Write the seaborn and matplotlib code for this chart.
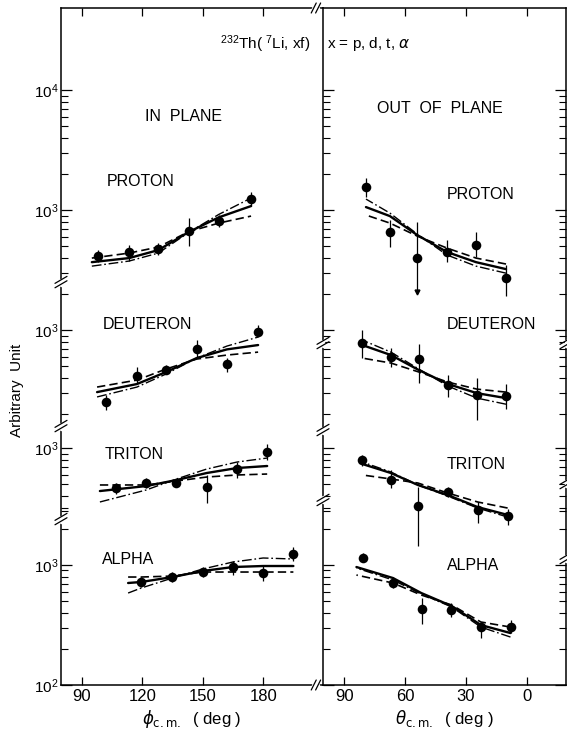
import numpy as np
import pandas as pd
import matplotlib
matplotlib.use('Agg')
import matplotlib.pyplot as plt
import seaborn as sns
from matplotlib import transforms
from matplotlib.lines import Line2D
from matplotlib.ticker import FixedLocator, FixedFormatter, NullFormatter

# ---- data (arbitrary units, before the per-group shift) ----
groups = ['PROTON', 'DEUTERON', 'TRITON', 'ALPHA']
shift = {'PROTON': 2.958, 'DEUTERON': 1.958, 'TRITON': 0.975, 'ALPHA': 0.0}  # decades

# IN PLANE (phi c.m.)
ip_proton_phi = [98, 113.5, 128, 143, 158, 174]
ip_proton_val = [414, 447, 473, 668, 810, 1235]
ip_proton_lo = [368, 376, 422, 501, 722, 1080]
ip_proton_hi = [464, 511, 531, 858, 909, 1413]
ip_proton_cphi = [95, 113.5, 128, 143, 158, 174]
ip_proton_dash = [398, 438, 492, 660, 779, 891]
ip_proton_solid = [368, 398, 464, 655, 870, 1080]
ip_proton_dot = [341, 376, 438, 650, 920, 1259]

ip_deut_phi = [102, 117.4, 131.8, 147.2, 162, 177.2]
ip_deut_val = [252, 414, 464, 694, 521, 962]
ip_deut_lo = [215, 362, 430, 584, 447, 874]
ip_deut_hi = [287, 492, 511, 825, 584, 1101]
ip_deut_cphi = [97.6, 117.4, 131.8, 147, 162, 177.5]
ip_deut_dash = [335, 383, 473, 573, 619, 655]
ip_deut_solid = [304, 355, 447, 584, 690, 750]
ip_deut_dot = [277, 335, 430, 584, 735, 874]

ip_trit_phi = [107, 122, 137, 152, 167, 182]
ip_trit_val = [464, 511, 511, 473, 668, 926]
ip_trit_lo = [414, 464, 473, 348, 562, 794]
ip_trit_hi = [511, 562, 552, 596, 764, 1080]
ip_trit_cphi = [99, 122, 137, 152, 167, 182]
ip_trit_dash = [492, 492, 531, 573, 596, 607]
ip_trit_solid = [438, 482, 541, 619, 681, 708]
ip_trit_dot = [355, 447, 552, 668, 764, 825]

ip_alpha_phi = [119.5, 135, 150, 165, 180, 195]
ip_alpha_val = [722, 794, 874, 962, 858, 1235]
ip_alpha_lo = [655, 722, 794, 825, 736, 1080]
ip_alpha_hi = [794, 874, 962, 1080, 1000, 1413]
ip_alpha_cphi = [113, 119.5, 135, 150, 165, 180, 195]
ip_alpha_dash = [794, 794, 809, 874, 874, 874, 874]
ip_alpha_solid = [708, 722, 794, 891, 962, 981, 981]
ip_alpha_dot = [584, 643, 779, 926, 1059, 1144, 1122]

# OUT OF PLANE (theta c.m.)
op_proton_th = [79.3, 67.5, 54.1, 39.3, 25.0, 10.2]
op_proton_val = [1556, 655, 398, 447, 511, 271]
op_proton_lo = [1283, 492, 207, 368, 406, 192]
op_proton_hi = [1848, 825, 794, 562, 655, 348]
op_proton_arrow = [0, 0, 1, 0, 0, 0]
op_proton_cth = [79.3, 67.5, 54, 39.3, 25, 10.2]
op_proton_dash = [909, 779, 607, 482, 398, 355]
op_proton_solid = [1059, 891, 619, 447, 368, 322]
op_proton_dot = [1235, 944, 631, 422, 341, 298]

op_deut_th = [81.1, 67.0, 53.2, 38.8, 24.6, 10.2]
op_deut_val = [779, 596, 573, 348, 287, 281]
op_deut_lo = [584, 492, 362, 277, 178, 220]
op_deut_hi = [1000, 708, 764, 422, 398, 355]
op_deut_cth = [81.1, 67, 53.2, 38.8, 24.6, 10.2]
op_deut_dash = [584, 531, 447, 368, 322, 304]
op_deut_solid = [750, 619, 464, 355, 298, 271]
op_deut_dot = [825, 655, 473, 341, 271, 241]

op_trit_th = [81.1, 67.0, 53.7, 39.0, 24.2, 9.4]
op_trit_val = [794, 541, 329, 430, 304, 271]
op_trit_lo = [708, 464, 153, 391, 237, 229]
op_trit_hi = [874, 655, 473, 473, 355, 310]
op_trit_cth = [81.1, 67, 53.7, 39, 24.2, 9.4]
op_trit_dash = [596, 552, 511, 422, 355, 316]
op_trit_solid = [736, 619, 492, 406, 322, 277]
op_trit_dot = [764, 631, 492, 398, 316, 266]

op_alpha_th = [80.6, 66.0, 51.7, 37.3, 22.6, 7.8]
op_alpha_val = [1144, 708, 430, 422, 304, 304]
op_alpha_lo = [1059, 643, 322, 368, 247, 271]
op_alpha_hi = [1259, 794, 531, 482, 335, 348]
op_alpha_cth = [84, 66, 52, 37, 22.6, 8]
op_alpha_dash = [825, 708, 562, 464, 335, 304]
op_alpha_solid = [962, 779, 584, 455, 316, 271]
op_alpha_dot = [944, 750, 573, 447, 304, 251]

in_ticks = [90, 120, 150, 180]
out_ticks = [90, 60, 30, 0]


# ---- tidy tables ----
def build(pts, cur):
    prow, crow = [], []
    for g in groups:
        s = 10 ** shift[g]
        ang, val, lo, hi, arr = pts[g]
        for a, v, l, h, w in zip(ang, val, lo, hi, arr):
            prow.append(dict(group=g, angle=a, shown=v * s, lo=l * s, hi=h * s, arrow=w))
        cang, cd, cs, cdd = cur[g]
        for model, ys in (('dashed', cd), ('solid', cs), ('dashdot', cdd)):
            for a, y in zip(cang, ys):
                crow.append(dict(group=g, model=model, angle=a, shown=y * s))
    return pd.DataFrame(prow), pd.DataFrame(crow)


no_arrow = [0] * 6
in_p, in_c = build(
    {'PROTON': (ip_proton_phi, ip_proton_val, ip_proton_lo, ip_proton_hi, no_arrow),
     'DEUTERON': (ip_deut_phi, ip_deut_val, ip_deut_lo, ip_deut_hi, no_arrow),
     'TRITON': (ip_trit_phi, ip_trit_val, ip_trit_lo, ip_trit_hi, no_arrow),
     'ALPHA': (ip_alpha_phi, ip_alpha_val, ip_alpha_lo, ip_alpha_hi, no_arrow)},
    {'PROTON': (ip_proton_cphi, ip_proton_dash, ip_proton_solid, ip_proton_dot),
     'DEUTERON': (ip_deut_cphi, ip_deut_dash, ip_deut_solid, ip_deut_dot),
     'TRITON': (ip_trit_cphi, ip_trit_dash, ip_trit_solid, ip_trit_dot),
     'ALPHA': (ip_alpha_cphi, ip_alpha_dash, ip_alpha_solid, ip_alpha_dot)})
out_p, out_c = build(
    {'PROTON': (op_proton_th, op_proton_val, op_proton_lo, op_proton_hi, op_proton_arrow),
     'DEUTERON': (op_deut_th, op_deut_val, op_deut_lo, op_deut_hi, no_arrow),
     'TRITON': (op_trit_th, op_trit_val, op_trit_lo, op_trit_hi, no_arrow),
     'ALPHA': (op_alpha_th, op_alpha_val, op_alpha_lo, op_alpha_hi, no_arrow)},
    {'PROTON': (op_proton_cth, op_proton_dash, op_proton_solid, op_proton_dot),
     'DEUTERON': (op_deut_cth, op_deut_dash, op_deut_solid, op_deut_dot),
     'TRITON': (op_trit_cth, op_trit_dash, op_trit_solid, op_trit_dot),
     'ALPHA': (op_alpha_cth, op_alpha_dash, op_alpha_solid, op_alpha_dot)})

sns.set_theme(style='white')
plt.rcParams['font.family'] = ['Liberation Sans', 'DejaVu Sans']
plt.rcParams['mathtext.default'] = 'regular'
plt.rcParams['text.color'] = 'black'
plt.rcParams['axes.labelcolor'] = 'black'

fig = plt.figure(figsize=(5.67, 7.36), dpi=100)
axL = fig.add_axes([61 / 567, 51 / 736, 262 / 567, 677 / 736])
axR = fig.add_axes([323 / 567, 51 / 736, 243 / 567, 677 / 736])

styles = [('solid', '-', 1.7), ('dashed', (0, (5, 2.5)), 1.2), ('dashdot', (0, (7, 2, 1.2, 2)), 1.0)]

for ax, pts, cur in ((axL, in_p, in_c), (axR, out_p, out_c)):
    ax.set_yscale('log')
    for model, ls, lw in styles:
        sub = cur[cur.model == model]
        sns.lineplot(data=sub, x='angle', y='shown', units='group', estimator=None,
                     color='black', lw=lw, linestyle=ls, ax=ax, legend=False)
    ax.vlines(pts.angle, pts.lo, pts.hi, color='black', lw=0.9, zorder=3)
    arr = pts[pts.arrow == 1]
    ax.plot(arr.angle, arr.lo, marker='v', ms=3.5, color='black', ls='none', zorder=3)
    sns.scatterplot(data=pts, x='angle', y='shown', color='black', s=48, linewidth=0,
                    ax=ax, zorder=4, legend=False)
    ax.set_ylim(100, 10 ** 7.642)
    ax.set_ylabel('')
    for sp in ax.spines.values():
        sp.set_color('black')
        sp.set_linewidth(1.1)

axL.set_xlim(79.7, 209.7)
axR.set_xlim(100.5, -19.4)
axL.spines['right'].set_visible(False)

# per-group y ticks
majors = [100, 1000] + [1000 * 10 ** shift[g] for g in ('TRITON', 'DEUTERON', 'PROTON')] \
    + [10000 * 10 ** shift['PROTON']]
major_lbl = ['$10^2$', '$10^3$', '$10^3$', '$10^3$', '$10^3$', '$10^4$']
minors = [k * 100 for k in range(2, 10)] + [2000, 3000]
minors += [k * 100 * 10 ** shift['TRITON'] for k in range(3, 10)]
minors += [k * 100 * 10 ** shift['DEUTERON'] for k in range(2, 10)]
minors += [k * 100 * 10 ** shift['PROTON'] for k in range(2, 10)]
minors += [k * 1000 * 10 ** shift['PROTON'] for k in range(2, 10)]

for ax in (axL, axR):
    ax.yaxis.set_major_locator(FixedLocator(majors))
    ax.yaxis.set_major_formatter(FixedFormatter(major_lbl))
    ax.yaxis.set_minor_locator(FixedLocator(minors))
    ax.yaxis.set_minor_formatter(NullFormatter())
    ax.tick_params(axis='y', which='major', direction='in', length=8, width=0.9,
                   labelsize=11, pad=2, colors='black')
    ax.tick_params(axis='y', which='minor', direction='in', length=5, width=0.8, colors='black')
    ax.tick_params(axis='x', which='major', direction='in', length=6, width=0.9,
                   top=True, bottom=True, labelsize=12, pad=3, colors='black')
    ax.grid(False)

axL.set_xticks(in_ticks)
axR.set_xticks(out_ticks)
axL.tick_params(axis='y', which='both', left=True, right=False)
axR.tick_params(axis='y', which='both', left=True, right=True, labelleft=False)

axL.set_xlabel(r'$\it{\phi}_{\rm c.m.}$  ( deg )', fontsize=12, labelpad=3)
axR.set_xlabel(r'$\it{\theta}_{\rm c.m.}$  ( deg )', fontsize=12, labelpad=3)

tk = dict(fontsize=11.5, va='center', ha='left')
axL.text(0.321, 0.839, 'IN  PLANE', transform=axL.transAxes, **tk)
axL.text(0.176, 0.743, 'PROTON', transform=axL.transAxes, **tk)
axL.text(0.160, 0.532, 'DEUTERON', transform=axL.transAxes, **tk)
axL.text(0.168, 0.341, 'TRITON', transform=axL.transAxes, **tk)
axL.text(0.156, 0.185, 'ALPHA', transform=axL.transAxes, **tk)
axR.text(0.222, 0.851, 'OUT  OF  PLANE', transform=axR.transAxes, **tk)
axR.text(0.510, 0.725, 'PROTON', transform=axR.transAxes, **tk)
axR.text(0.510, 0.533, 'DEUTERON', transform=axR.transAxes, **tk)
axR.text(0.510, 0.326, 'TRITON', transform=axR.transAxes, **tk)
axR.text(0.510, 0.176, 'ALPHA', transform=axR.transAxes, **tk)

fig.text(220 / 567, 1 - 44 / 736, r'$^{232}$Th( $^{7}$Li, xf)', fontsize=11,
         va='center', ha='left')
fig.text(327 / 567, 1 - 44 / 736, r'x = p, d, t, $\it{\alpha}$', fontsize=11,
         va='center', ha='left')
fig.text(17 / 567, 1 - 390 / 736, 'Arbitrary  Unit', rotation=90, fontsize=11,
         va='center', ha='center')

# axis break marks
inv = fig.transFigure.inverted()


def seg(p0, p1, **kw):
    q = inv.transform([p0, p1])
    fig.add_artist(Line2D(q[:, 0], q[:, 1], **kw))


def ybreak(ax, xf, L):
    trans = transforms.blended_transform_factory(ax.transAxes, ax.transData)
    x0, y0 = trans.transform((xf, 10 ** L))
    seg((x0, y0 - 2.5), (x0, y0 + 2.5), color='white', lw=2.5)
    for dy in (-2.2, 2.2):
        seg((x0 - 6, y0 + dy - 3.5), (x0 + 6, y0 + dy + 3.5), color='black', lw=0.9)


def xbreak(ax, xf, yf):
    x0, y0 = ax.transAxes.transform((xf, yf))
    seg((x0 - 2.5, y0), (x0 + 2.5, y0), color='white', lw=2.5)
    for dx in (-2.2, 2.2):
        seg((x0 + dx - 2.5, y0 - 5), (x0 + dx + 2.5, y0 + 5), color='black', lw=0.9)


fig.canvas.draw()
for L in (5.358, 4.158, 3.383):
    ybreak(axL, 0.0, L)
for L in (4.85, 4.125, 3.542):
    ybreak(axR, 0.0, L)
for L in (4.85, 3.683, 3.058):
    ybreak(axR, 1.0, L)
xbreak(axL, 0.973, 0.0)
xbreak(axL, 0.973, 1.0)

fig.savefig('out.png', dpi=100, facecolor='white')
